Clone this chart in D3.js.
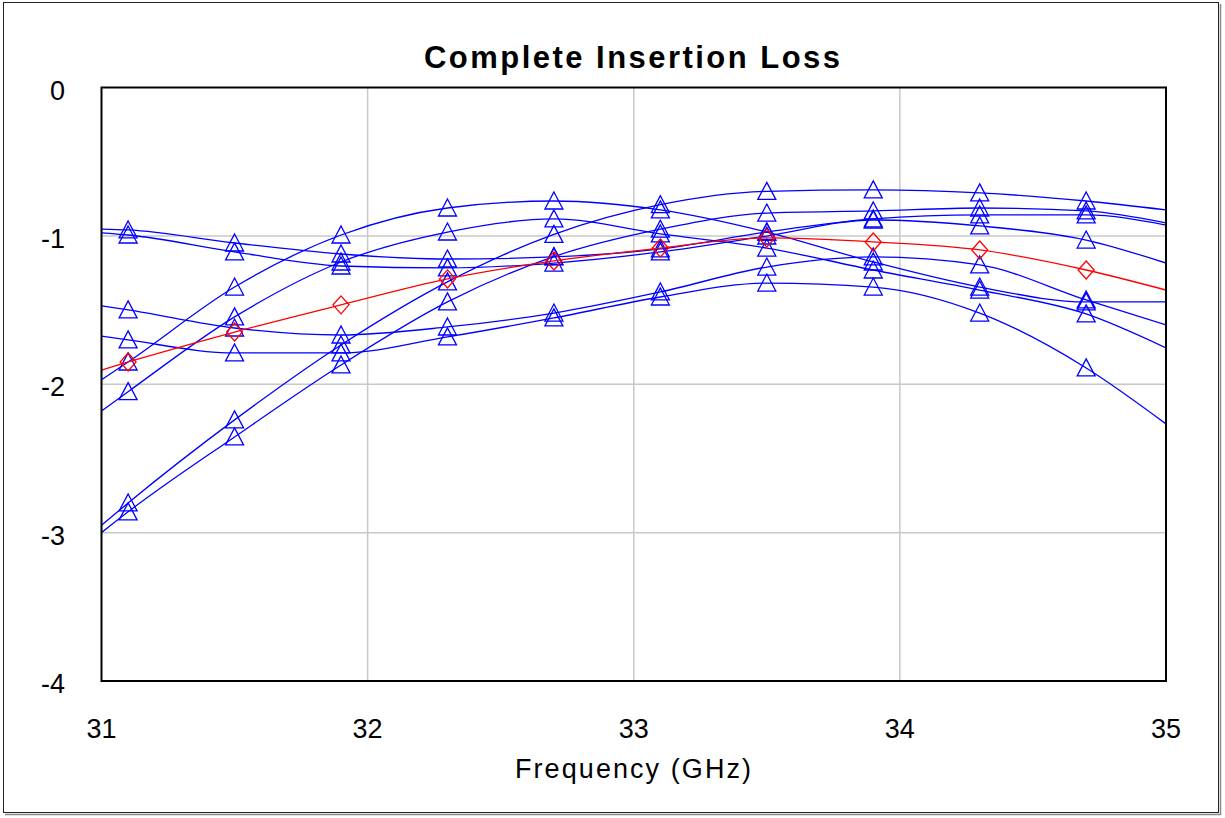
<!DOCTYPE html>
<html>
<head>
<meta charset="utf-8">
<script src="https://cdn.jsdelivr.net/npm/d3@7.9.0/dist/d3.min.js"></script>
<style>
  body { margin: 0; background: #fff; }
  text { font-family: "Liberation Sans", Arial, sans-serif; }
</style>
</head>
<body>
<div id="chart"></div>
<script>
// Frequencies used for the curves (ends at 31 and 35 carry no marker)
const curveFreqs = [31, 31.1, 31.5, 31.9, 32.3, 32.7, 33.1, 33.5, 33.9, 34.3, 34.7, 35];

// Insertion loss (dB), blue traces
const blue1 = [-2.95, -2.80, -2.24, -1.735, -1.31, -0.99, -0.79, -0.70, -0.69, -0.71, -0.765, -0.825];
const blue2 = [-3.00, -2.86, -2.355, -1.87, -1.445, -1.14, -0.955, -0.846, -0.832, -0.812, -0.832, -0.913];
const blue3 = [-1.97, -1.85, -1.345, -0.994, -0.812, -0.765, -0.825, -0.974, -1.176, -1.345, -1.445, -1.445];
const blue4 = [-2.18, -2.05, -1.546, -1.176, -0.974, -0.886, -0.987, -1.082, -1.23, -1.365, -1.526, -1.755];
const blue5 = [-0.954, -0.960, -1.048, -1.122, -1.156, -1.142, -1.088, -0.974, -0.886, -0.859, -0.859, -0.927];
const blue6 = [-0.980, -0.994, -1.108, -1.203, -1.216, -1.183, -1.108, -1.001, -0.893, -0.933, -1.028, -1.183];
const blue7 = [-1.472, -1.499, -1.621, -1.668, -1.614, -1.520, -1.378, -1.210, -1.142, -1.196, -1.432, -1.600];
const blue8 = [-1.675, -1.701, -1.789, -1.789, -1.681, -1.553, -1.412, -1.318, -1.345, -1.520, -1.890, -2.267];
// red trace (average)
const redTrace = [-1.904, -1.850, -1.648, -1.465, -1.290, -1.169, -1.082, -1.014, -1.041, -1.095, -1.230, -1.365];

const xTicks = [31, 32, 33, 34, 35];
const yTicks = [0, -1, -2, -3, -4];

const width = 1225;
const height = 818;
const plot = { left: 101.5, right: 1166, top: 87.5, bottom: 681 };

const svg = d3.select('#chart')
    .append('svg')
    .attr('width', width)
    .attr('height', height);

// outer frame with a little shadow
svg.append('rect')
    .attr('x', 3.5).attr('y', 2.5)
    .attr('width', 1215).attr('height', 810)
    .attr('fill', '#fff')
    .attr('stroke', '#222').attr('stroke-width', 1);
svg.append('path')
    .attr('d', 'M1220.5,4 V814.5 H5')
    .attr('fill', 'none').attr('stroke', '#888').attr('stroke-width', 1.5);

const xScale = d3.scaleLinear().domain([31, 35]).range([plot.left, plot.right]);
const yScale = d3.scaleLinear().domain([-4, 0]).range([plot.bottom, plot.top]);

// gridlines
const grid = svg.append('g').attr('class', 'grid');
grid.selectAll('line.gx')
    .data(xTicks.slice(1, -1))
    .join('line')
    .attr('x1', d => xScale(d)).attr('x2', d => xScale(d))
    .attr('y1', plot.top).attr('y2', plot.bottom)
    .attr('stroke', '#c8c8c8').attr('stroke-width', 1.5);
grid.selectAll('line.gy')
    .data(yTicks.slice(1, -1))
    .join('line')
    .attr('x1', plot.left).attr('x2', plot.right)
    .attr('y1', d => yScale(d)).attr('y2', d => yScale(d))
    .attr('stroke', '#c8c8c8').attr('stroke-width', 1.5);

// tick labels
svg.append('g')
    .selectAll('text')
    .data(xTicks)
    .join('text')
    .attr('x', d => xScale(d))
    .attr('y', 738)
    .attr('text-anchor', 'middle')
    .attr('font-size', 27)
    .text(d => d);
svg.append('g')
    .selectAll('text')
    .data(yTicks)
    .join('text')
    .attr('x', 65)
    .attr('y', d => yScale(d) + 12)
    .attr('text-anchor', 'end')
    .attr('font-size', 27)
    .text(d => d);

// title and axis label
svg.append('text')
    .attr('x', 632).attr('y', 68)
    .attr('text-anchor', 'middle')
    .attr('font-size', 31)
    .attr('font-weight', 'bold')
    .attr('textLength', 416)
    .attr('lengthAdjust', 'spacing')
    .text('Complete Insertion Loss');
svg.append('text')
    .attr('x', 633).attr('y', 778)
    .attr('text-anchor', 'middle')
    .attr('font-size', 27)
    .attr('textLength', 236)
    .attr('lengthAdjust', 'spacing')
    .text('Frequency (GHz)');

// traces
const clip = svg.append('clipPath').attr('id', 'plot-clip')
    .append('rect')
    .attr('x', plot.left).attr('y', plot.top)
    .attr('width', plot.right - plot.left).attr('height', plot.bottom - plot.top);

const line = d3.line()
    .x((d, i) => xScale(curveFreqs[i]))
    .y(d => yScale(d))
    .curve(d3.curveMonotoneX);

const blueSeries = [blue1, blue2, blue3, blue4, blue5, blue6, blue7, blue8];
const traces = svg.append('g').attr('clip-path', 'url(#plot-clip)');

const triangle = 'M0,-9 L9,8 L-9,8 Z';
const diamond = 'M0,-9 L8,0 L0,9 L-8,0 Z';

function drawTrace(values, color, markerPath) {
    traces.append('path')
        .datum(values)
        .attr('d', line)
        .attr('fill', 'none')
        .attr('stroke', color)
        .attr('stroke-width', 1.3);
    // markers only on the measured points (not at 31 / 35)
    traces.append('g')
        .selectAll('path')
        .data(values.map((v, i) => ({ f: curveFreqs[i], v })).slice(1, -1))
        .join('path')
        .attr('transform', d => `translate(${xScale(d.f)},${yScale(d.v)})`)
        .attr('d', markerPath)
        .attr('fill', 'none')
        .attr('stroke', color)
        .attr('stroke-width', 1.3);
}

blueSeries.forEach(s => drawTrace(s, '#0000ff', triangle));
drawTrace(redTrace, '#ff0000', diamond);

// plot frame
svg.append('rect')
    .attr('x', plot.left).attr('y', plot.top)
    .attr('width', plot.right - plot.left).attr('height', plot.bottom - plot.top)
    .attr('fill', 'none')
    .attr('stroke', '#000').attr('stroke-width', 2);
</script>
</body>
</html>
